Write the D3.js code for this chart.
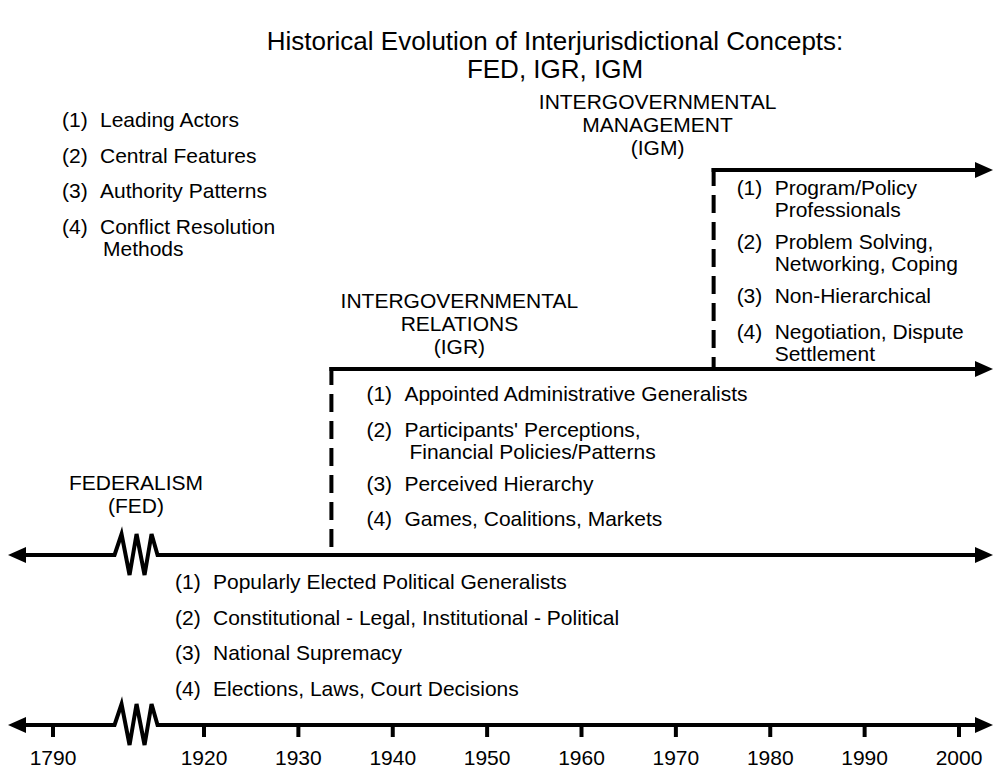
<!DOCTYPE html>
<html>
<head>
<meta charset="utf-8">
<script src="https://cdn.jsdelivr.net/npm/d3@7"></script>
<style>
  html, body { margin: 0; padding: 0; background: #fff; }
  svg text { font-family: "Liberation Sans", Arial, Helvetica, sans-serif; fill: #000; }
</style>
</head>
<body>
<div id="chart"></div>
<script>
// timeline ticks (axis is broken between 1790 and 1920)
const years = [1790, 1920, 1930, 1940, 1950, 1960, 1970, 1980, 1990, 2000];

// era start years
const eraNames = ["FED", "IGR", "IGM"];
const eraStart = [1790, 1933.5, 1974];
const eraTitles = [
  ["FEDERALISM", "(FED)"],
  ["INTERGOVERNMENTAL", "RELATIONS", "(IGR)"],
  ["INTERGOVERNMENTAL", "MANAGEMENT", "(IGM)"],
];

const dimensions = [
  ["Leading Actors"],
  ["Central Features"],
  ["Authority Patterns"],
  ["Conflict Resolution", "Methods"],
];
const fedItems = [
  ["Popularly Elected Political Generalists"],
  ["Constitutional - Legal, Institutional - Political"],
  ["National Supremacy"],
  ["Elections, Laws, Court Decisions"],
];
const igrItems = [
  ["Appointed Administrative Generalists"],
  ["Participants' Perceptions,", "Financial Policies/Patterns"],
  ["Perceived Hierarchy"],
  ["Games, Coalitions, Markets"],
];
const igmItems = [
  ["Program/Policy", "Professionals"],
  ["Problem Solving,", "Networking, Coping"],
  ["Non-Hierarchical"],
  ["Negotiation, Dispute", "Settlement"],
];

const width = 995;
const height = 770;
const LW = 4;

const svg = d3
  .select("#chart")
  .append("svg")
  .attr("width", width)
  .attr("height", height)
  .attr("viewBox", `0 0 ${width} ${height}`);

// piecewise scale: compressed stretch 1790 -> 1920, then linear
const x = d3.scaleLinear().domain([1790, 1920, 2000]).range([53, 204, 959]);
const xEnd = 993;
const xStart = 8;
const breakX = x(1790) + 0.55 * (x(1920) - x(1790));

const yAxis = 725;
const levels = [555, 369, 170]; // FED, IGR, IGM baselines

// title
svg
  .append("text")
  .attr("x", 555)
  .attr("y", 50)
  .attr("text-anchor", "middle")
  .attr("font-size", 26)
  .text("Historical Evolution of Interjurisdictional Concepts:");
svg
  .append("text")
  .attr("x", 555)
  .attr("y", 78)
  .attr("text-anchor", "middle")
  .attr("font-size", 26)
  .text("FED, IGR, IGM");

function arrowHead(g, tipX, y, dir) {
  const len = 18;
  const half = 8;
  g.append("path")
    .attr(
      "d",
      `M${tipX},${y}L${tipX - dir * len},${y - half}L${tipX - dir * len},${y + half}Z`,
    )
    .attr("fill", "#000");
}

function hLine(g, x1, x2, y) {
  g.append("line")
    .attr("x1", x1)
    .attr("x2", x2)
    .attr("y1", y)
    .attr("y2", y)
    .attr("stroke", "#000")
    .attr("stroke-width", LW);
}

// line with a zigzag break
function brokenLine(g, y) {
  const zz = [
    [-21.5, 0],
    [-14.5, -21],
    [-6.5, 20],
    [0.5, -21],
    [8.5, 20],
    [15.5, -21],
    [21.5, 0],
  ];
  const pts = [[xStart + 10, 0]]
    .concat(zz.map((p) => [breakX + p[0], p[1]]))
    .concat([[xEnd - 10, 0]]);
  g.append("path")
    .attr("d", d3.line()(pts.map((p) => [p[0], y + p[1]])))
    .attr("fill", "none")
    .attr("stroke", "#000")
    .attr("stroke-width", LW)
    .attr("stroke-linejoin", "miter");
  arrowHead(g, xStart, y, -1);
  arrowHead(g, xEnd, y, 1);
}

const lines = svg.append("g");

// bottom time axis
brokenLine(lines, yAxis);
lines
  .selectAll(".tick")
  .data(years)
  .join("line")
  .attr("class", "tick")
  .attr("x1", (d) => x(d))
  .attr("x2", (d) => x(d))
  .attr("y1", yAxis)
  .attr("y2", yAxis + 12)
  .attr("stroke", "#000")
  .attr("stroke-width", LW);
svg
  .selectAll(".year")
  .data(years)
  .join("text")
  .attr("class", "year")
  .attr("x", (d) => x(d))
  .attr("y", 765)
  .attr("text-anchor", "middle")
  .attr("font-size", 21)
  .text((d) => d);

// FED line
brokenLine(lines, levels[0]);

// IGR and IGM steps
[1, 2].forEach((i) => {
  const sx = x(eraStart[i]);
  lines
    .append("line")
    .attr("x1", sx)
    .attr("x2", sx)
    .attr("y1", levels[i] - LW / 2)
    .attr("y2", levels[i - 1])
    .attr("stroke", "#000")
    .attr("stroke-width", LW)
    .attr("stroke-dasharray", "18,9");
  hLine(lines, sx - LW / 2, xEnd - 10, levels[i]);
  arrowHead(lines, xEnd, levels[i], 1);
});

// era titles
const titleCenters = [x(1790) + 83, x(eraStart[1]) + 128, x(eraStart[2]) - 56];
const titleBase = [490, 308, 109];
eraNames.forEach((name, i) => {
  svg
    .append("g")
    .attr("class", "era-title era-" + name)
    .selectAll("text")
    .data(eraTitles[i])
    .join("text")
    .attr("x", titleCenters[i])
    .attr("y", (d, j) => titleBase[i] + j * 23)
    .attr("text-anchor", "middle")
    .attr("font-size", 21)
    .text((d) => d);
});

// numbered lists
function numberedList(items, x0, y0, indent) {
  const g = svg.append("g");
  let y = y0;
  items.forEach((lines, i) => {
    g.append("text")
      .attr("x", x0)
      .attr("y", y)
      .attr("font-size", 21)
      .text(`(${i + 1})`);
    lines.forEach((ln, j) => {
      g.append("text")
        .attr("x", x0 + 38 + (j > 0 ? indent : 0))
        .attr("y", y + j * 22)
        .attr("font-size", 21)
        .text(ln);
    });
    y += lines.length > 1 ? (lines.length - 1) * 22 + 32 : 35.5;
  });
}

numberedList(dimensions, 62, 127, 3);
numberedList(fedItems, 175, 589, 0);
numberedList(igrItems, x(eraStart[1]) + 35, 401, 5);
numberedList(igmItems, x(eraStart[2]) + 23, 195, 0);
</script>
</body>
</html>
